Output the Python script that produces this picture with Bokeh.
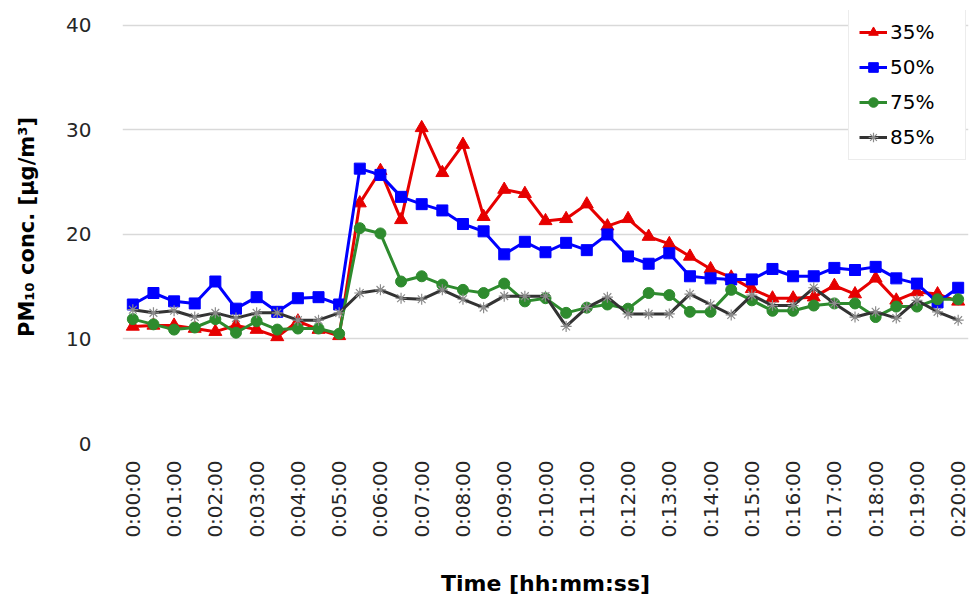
import math
from bokeh.plotting import figure
from bokeh.models import Range1d, FixedTicker, Legend, LegendItem
from bokeh.embed import file_html
from bokeh.resources import INLINE

# sampling time in seconds (every 30 s from 0:00:00 to 0:20:00)
time_s = list(range(0, 1201, 30))

tick_seconds = [0, 60, 120, 180, 240, 300, 360, 420, 480, 540, 600,
                660, 720, 780, 840, 900, 960, 1020, 1080, 1140, 1200]
tick_labels = ["0:00:00", "0:01:00", "0:02:00", "0:03:00", "0:04:00", "0:05:00",
               "0:06:00", "0:07:00", "0:08:00", "0:09:00", "0:10:00", "0:11:00",
               "0:12:00", "0:13:00", "0:14:00", "0:15:00", "0:16:00", "0:17:00",
               "0:18:00", "0:19:00", "0:20:00"]
y_ticks = [0, 10, 20, 30, 40]

rh35 = [11.2, 11.3, 11.3, 11.0, 10.7, 11.3, 10.9, 10.2, 11.7, 10.9, 10.3,
        23.0, 26.1, 21.4, 30.2, 25.9, 28.6, 21.7, 24.3, 23.9, 21.3,
        21.5, 22.9, 20.8, 21.5, 19.8, 19.1, 17.9, 16.7, 15.9, 14.8,
        13.9, 13.9, 14.0, 15.1, 14.3, 15.8, 13.7, 14.5, 14.3, 13.6]
rh50 = [13.3, 14.4, 13.6, 13.4, 15.5, 12.9, 14.0, 12.6, 13.9, 14.0, 13.3,
        26.3, 25.7, 23.6, 22.9, 22.3, 21.0, 20.3, 18.1, 19.3, 18.3,
        19.2, 18.5, 20.0, 17.9, 17.2, 18.2, 16.0, 15.8, 15.7, 15.7,
        16.7, 16.0, 16.0, 16.8, 16.6, 16.9, 15.8, 15.3, 13.5, 14.9]
rh75 = [11.9, 11.4, 10.9, 11.1, 11.9, 10.6, 11.7, 10.9, 11.0, 11.0, 10.5,
        20.6, 20.1, 15.5, 16.0, 15.2, 14.7, 14.4, 15.3, 13.6, 13.9,
        12.5, 13.0, 13.3, 12.9, 14.4, 14.2, 12.6, 12.6, 14.7, 13.7,
        12.7, 12.7, 13.2, 13.4, 13.4, 12.1, 13.1, 13.1, 13.8, 13.8]
rh85 = [12.8, 12.5, 12.7, 12.1, 12.5, 12.0, 12.5, 12.5, 11.8, 11.8, 12.5,
        14.4, 14.7, 13.9, 13.8, 14.7, 13.8, 13.0, 14.1, 14.1, 14.1,
        11.2, 13.0, 14.0, 12.4, 12.4, 12.4, 14.3, 13.3, 12.3, 14.2,
        13.2, 13.2, 14.9, 13.4, 12.1, 12.6, 12.0, 13.7, 12.6, 11.8]

series_names = ["35%", "50%", "75%", "85%"]

FONT = "DejaVu Sans"

# frame extends a little above 40 so the legend (which sits above the top gridline) is not clipped
p = figure(width=971, height=598,
           x_range=Range1d(-15, 1215), y_range=Range1d(0, 41.43),
           output_backend="svg", toolbar_location=None,
           min_border_left=122, min_border_right=3,
           min_border_top=10, min_border_bottom=152)
p.outline_line_color = None
p.background_fill_color = "white"
p.border_fill_color = "white"

p.xgrid.visible = False
p.ygrid.grid_line_color = "#D9D9D9"
p.ygrid.grid_line_width = 1.5

p.yaxis.ticker = FixedTicker(ticks=y_ticks)
p.xaxis.ticker = FixedTicker(ticks=tick_seconds)
p.xaxis.major_label_overrides = {s: l for s, l in zip(tick_seconds, tick_labels)}
p.xaxis.major_label_orientation = math.pi / 2

for ax in (p.xaxis, p.yaxis):
    ax.axis_line_color = None
    ax.major_tick_line_color = None
    ax.minor_tick_line_color = None
    ax.major_tick_out = 0
    ax.major_tick_in = 0
    ax.major_label_text_font = FONT
    ax.major_label_text_font_size = "20px"
    ax.major_label_text_color = "#262626"
    ax.axis_label_text_font = FONT
    ax.axis_label_text_font_style = "bold"
    ax.axis_label_text_font_size = "21px"
    ax.axis_label_text_color = "#000000"

p.yaxis.major_label_standoff = 31
p.xaxis.major_label_standoff = 17
p.yaxis.axis_label = "PM₁₀ conc. [μg/m³]"
p.yaxis.axis_label_standoff = 24
p.xaxis.axis_label = "Time [hh:mm:ss]"
p.xaxis.axis_label_text_font_size = "22px"
p.xaxis.axis_label_standoff = 30

styles = [
    (rh35, "#E60000", "triangle", 13, "#E60000"),
    (rh50, "#0000FF", "square", 11, "#0000FF"),
    (rh75, "#2E8B2E", "circle", 11, "#2E8B2E"),
    (rh85, "#333333", "asterisk", 11, "#8C8C8C"),
]

items = []
for (vals, color, marker, size, mcolor), name in zip(styles, series_names):
    ln = p.line(time_s, vals, line_color=color, line_width=3)
    if marker == "asterisk":
        sc = p.scatter(time_s, vals, marker=marker, size=size,
                       line_color=mcolor, line_width=1.2)
    else:
        sc = p.scatter(time_s, vals, marker=marker, size=size,
                       fill_color=mcolor, line_color=mcolor)
    items.append(LegendItem(label=name, renderers=[ln, sc]))

legend = Legend(items=items, location=(726, 283))
legend.label_text_font = FONT
legend.label_text_font_size = "20px"
legend.label_text_color = "#000000"
legend.glyph_width = 28
legend.glyph_height = 24
legend.label_height = 24
legend.label_width = 65
legend.label_standoff = 3
legend.spacing = 11
legend.padding = 10
legend.margin = 0
legend.border_line_color = "#D9D9D9"
legend.border_line_width = 1
legend.background_fill_color = "white"
legend.background_fill_alpha = 1.0
p.add_layout(legend, "center")

open("out.html", "w").write(file_html(p, INLINE))
